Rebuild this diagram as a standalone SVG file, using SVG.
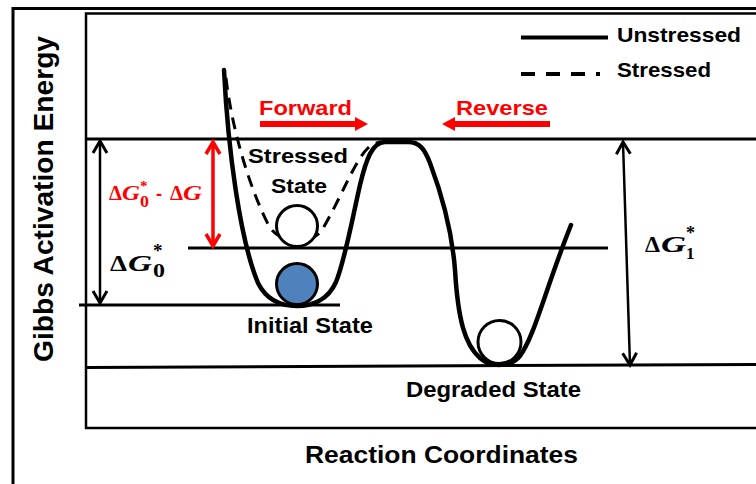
<svg xmlns="http://www.w3.org/2000/svg" width="756" height="484" viewBox="0 0 756 484">
<style>
.lbl{font-family:"Liberation Sans",Arial,sans-serif;font-weight:bold;fill:#000}
.red{fill:#FF0000}
.math{font-family:"Liberation Serif","Times New Roman",serif;font-weight:bold}
.it{font-style:italic}
.ln{stroke:#000;stroke-width:3;fill:none}
.thin{stroke:#000;stroke-width:2.5;fill:none}
.curve{stroke:#000;stroke-width:4.5;fill:none;stroke-linejoin:round;stroke-linecap:round}
.dash{stroke:#000;stroke-width:3;fill:none;stroke-dasharray:12 8}
.ball{stroke:#000;stroke-width:3}
</style>
<defs>
<marker id="openK" markerUnits="userSpaceOnUse" markerWidth="20" markerHeight="20" viewBox="-14 -10 20 20" refX="0" refY="0" orient="auto-start-reverse" overflow="visible">
<path d="M-12,-7 L0,0 L-12,7" fill="none" stroke="#000" stroke-width="3" stroke-linejoin="miter"/>
</marker>
<marker id="openR" markerUnits="userSpaceOnUse" markerWidth="20" markerHeight="20" viewBox="-14 -10 20 20" refX="0" refY="0" orient="auto-start-reverse" overflow="visible">
<path d="M-12,-7 L0,0 L-12,7" fill="none" stroke="#FF0000" stroke-width="3.5" stroke-linejoin="miter"/>
</marker>
<marker id="triR" markerUnits="userSpaceOnUse" markerWidth="16" markerHeight="16" viewBox="0 -8 16 16" refX="0" refY="0" orient="auto" overflow="visible">
<path d="M0,-7 L13,0 L0,7 Z" fill="#FF0000"/>
</marker>
</defs>
<rect width="756" height="484" fill="#fff"/>

<g id="frame">
<path class="ln" d="M13,484 V8.5 H756" stroke-width="3.5"/>
<path class="thin" d="M756,13.5 H86 V428 H756"/>
</g>

<g id="levels">
<line class="ln" x1="86" y1="139" x2="756" y2="139"/>
<line class="ln" x1="188" y1="248" x2="608" y2="248"/>
<line class="ln" x1="79" y1="305" x2="340" y2="305"/>
<line class="ln" x1="86" y1="367.5" x2="756" y2="364.5"/>
</g>

<g id="curves">
<path id="unstressed-curve" class="curve" d="M224,70 C228,150 240,240 258,283 C268,303 285,306 297,306 C312,306 328,300 336,282 C345,260 352,220 360,185 C366,160 372,142 385,142 L408,142 C420,142 425,150 430,163 C442,195 452,230 455,270 C458,320 465,345 480,358 C490,367 510,368 520,356 C535,335 545,290 571,225"/>
<path id="stressed-curve" class="dash" d="M226,78 C232,130 250,190 270,228 C278,238 288,241 297,241 C308,241 316,238 322,230 C340,200 355,160 368,148 C372,144 376,143 380,142"/>
</g>

<g id="states">
<circle id="stressed-ball" class="ball" cx="297" cy="226" r="20.5" fill="#fff"/>
<circle id="initial-ball" class="ball" cx="297" cy="284" r="20.5" fill="#4F81BD"/>
<circle id="degraded-ball" class="ball" cx="499.5" cy="342" r="21.5" fill="#fff"/>
</g>

<g id="connectors">
<line x1="100" y1="141" x2="100" y2="303" stroke="#000" stroke-width="2.5" marker-start="url(#openK)" marker-end="url(#openK)"/>
<line x1="213" y1="142" x2="213" y2="246" stroke="#FF0000" stroke-width="3.5" marker-start="url(#openR)" marker-end="url(#openR)"/>
<line x1="623" y1="142" x2="630" y2="365" stroke="#000" stroke-width="2.5" marker-start="url(#openK)" marker-end="url(#openK)"/>
<line x1="260" y1="124" x2="355" y2="124" stroke="#FF0000" stroke-width="6" marker-end="url(#triR)"/>
<line x1="550" y1="124" x2="455" y2="124" stroke="#FF0000" stroke-width="6" marker-end="url(#triR)"/>
</g>

<g id="legend">
<line x1="521" y1="37.5" x2="608" y2="37.5" stroke="#000" stroke-width="4"/>
<line x1="521" y1="74" x2="600" y2="74" stroke="#000" stroke-width="4" stroke-dasharray="14 11"/>
<text class="lbl" x="617" y="42" font-size="21" textLength="124" lengthAdjust="spacingAndGlyphs">Unstressed</text>
<text class="lbl" x="617" y="77" font-size="21" textLength="94" lengthAdjust="spacingAndGlyphs">Stressed</text>
</g>

<g id="direction-labels">
<text class="lbl red" x="259" y="115" font-size="21" textLength="93" lengthAdjust="spacingAndGlyphs">Forward</text>
<text class="lbl red" x="456" y="115" font-size="21" textLength="92" lengthAdjust="spacingAndGlyphs">Reverse</text>
</g>

<g id="state-labels">
<text class="lbl" x="248" y="163" font-size="21" textLength="100" lengthAdjust="spacingAndGlyphs">Stressed</text>
<text class="lbl" x="271" y="193" font-size="21" textLength="56" lengthAdjust="spacingAndGlyphs">State</text>
<text class="lbl" x="247" y="333" font-size="22" textLength="126" lengthAdjust="spacingAndGlyphs">Initial State</text>
<text class="lbl" x="406" y="397" font-size="22" textLength="175" lengthAdjust="spacingAndGlyphs">Degraded State</text>
</g>

<g id="energy-labels">
<g id="dG0-minus-dG">
<text class="math red" x="109" y="200" font-size="20" textLength="13" lengthAdjust="spacingAndGlyphs">Δ</text>
<text class="math it red" x="122" y="200" font-size="20" textLength="18" lengthAdjust="spacingAndGlyphs">G</text>
<text class="math red" x="140" y="207" font-size="16" textLength="9" lengthAdjust="spacingAndGlyphs">0</text>
<text class="math red" x="140" y="191" font-size="15">*</text>
<text class="lbl red" x="156" y="200" font-size="18">-</text>
<text class="math red" x="170" y="200" font-size="20" textLength="13" lengthAdjust="spacingAndGlyphs">Δ</text>
<text class="math it red" x="183" y="200" font-size="20" textLength="19" lengthAdjust="spacingAndGlyphs">G</text>
</g>
<g id="dG0">
<text class="math" x="110" y="271" font-size="24" textLength="17" lengthAdjust="spacingAndGlyphs">Δ</text>
<text class="math it" x="128" y="271" font-size="24" textLength="24" lengthAdjust="spacingAndGlyphs">G</text>
<text class="math" x="153" y="277" font-size="18" textLength="12" lengthAdjust="spacingAndGlyphs">0</text>
<text class="math" x="153" y="257" font-size="19">*</text>
</g>
<g id="dG1">
<text class="math" x="645" y="252" font-size="23" textLength="15" lengthAdjust="spacingAndGlyphs">Δ</text>
<text class="math it" x="661" y="252" font-size="23" textLength="25" lengthAdjust="spacingAndGlyphs">G</text>
<text class="math" x="686" y="259" font-size="17">1</text>
<text class="math" x="686" y="239" font-size="18">*</text>
</g>
</g>

<g id="axis-labels">
<text class="lbl" transform="translate(53,199) rotate(-90)" x="0" y="0" text-anchor="middle" font-size="27" textLength="326" lengthAdjust="spacingAndGlyphs">Gibbs Activation Energy</text>
<text class="lbl" x="305" y="463" font-size="24" textLength="273" lengthAdjust="spacingAndGlyphs">Reaction Coordinates</text>
</g>
</svg>
